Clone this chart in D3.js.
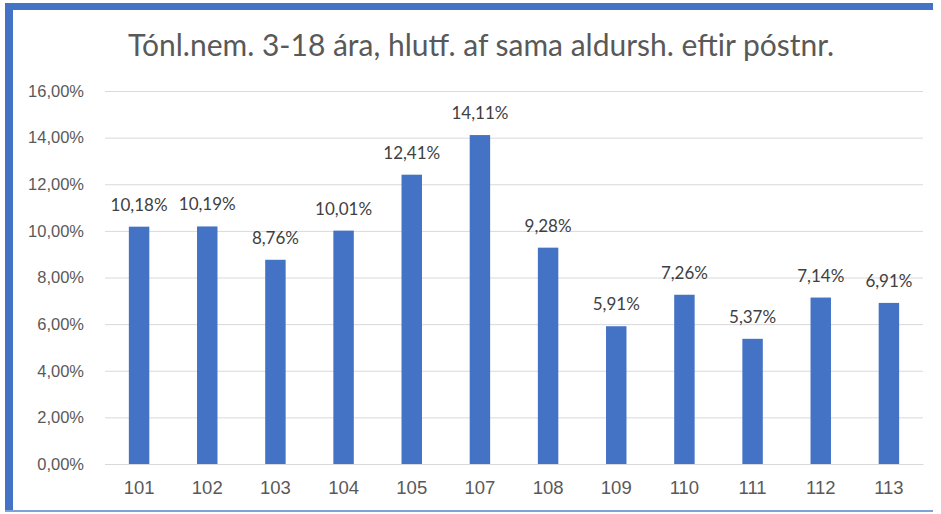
<!DOCTYPE html>
<html>
<head>
<meta charset="utf-8">
<script src="https://cdn.jsdelivr.net/npm/d3@7"></script>
<style>
  body { margin: 0; background: #fff; }
  svg { display: block; font-family: Lato, "Open Sans", sans-serif; }
</style>
</head>
<body>
<svg id="chart" width="941" height="514"></svg>
<script>
// Chart data
const titleText = 'Tónl.nem. 3-18 ára, hlutf. af sama aldursh. eftir póstnr.';
const postcodes = ['101', '102', '103', '104', '105', '107', '108', '109', '110', '111', '112', '113'];
const shares = [10.18, 10.19, 8.76, 10.01, 12.41, 14.11, 9.28, 5.91, 7.26, 5.37, 7.14, 6.91];
const yTicks = [0, 2, 4, 6, 8, 10, 12, 14, 16];

const svg = d3.select('#chart');
const margin = { left: 105, right: 18, top: 91, bottom: 50 };
const width = 941, height = 514;

// Frame (blue border like the screenshot)
svg.append('rect').attr('x', 0).attr('y', 0).attr('width', width).attr('height', height).attr('fill', '#fff');
svg.append('rect').attr('x', 5).attr('y', 3).attr('width', 928).attr('height', 7).attr('fill', '#4472C4');
svg.append('rect').attr('x', 5).attr('y', 3).attr('width', 8).attr('height', 509).attr('fill', '#4472C4');
svg.append('rect').attr('x', 5).attr('y', 510).attr('width', 928).attr('height', 2).attr('fill', '#7fa0d8');

const x = d3.scaleBand()
    .domain(postcodes)
    .range([margin.left, width - margin.right])
    .paddingInner(0.7)
    .paddingOuter(0.35);

const y = d3.scaleLinear()
    .domain([0, 16])
    .range([height - margin.bottom, margin.top]);

const fmt = v => v.toFixed(2).replace('.', ',') + '%';

// Title
svg.append('text')
    .attr('x', 481)
    .attr('y', 56)
    .attr('text-anchor', 'middle')
    .style('font-size', '30px')
    .style('fill', '#595959')
    .text(titleText);

// Gridlines + y axis labels
const yAxis = d3.axisLeft(y)
    .tickValues(yTicks)
    .tickSize(-(width - margin.left - margin.right))
    .tickPadding(21)
    .tickFormat(fmt);

const gy = svg.append('g')
    .attr('transform', `translate(${margin.left},0)`)
    .call(yAxis);
gy.select('.domain').remove();
gy.selectAll('line').attr('stroke', '#d9d9d9').attr('stroke-width', 1);
gy.selectAll('text').style('font-size', '16.5px').style('fill', '#595959');

// Bars
svg.append('g')
    .selectAll('rect')
    .data(shares)
    .enter()
    .append('rect')
    .attr('x', (d, i) => x(postcodes[i]))
    .attr('y', d => y(d))
    .attr('width', x.bandwidth())
    .attr('height', d => y(0) - y(d))
    .attr('fill', '#4472C4');

// Value labels
svg.append('g')
    .selectAll('text')
    .data(shares)
    .enter()
    .append('text')
    .attr('x', (d, i) => x(postcodes[i]) + x.bandwidth() / 2)
    .attr('y', d => y(d) - 16)
    .attr('text-anchor', 'middle')
    .style('font-size', '17px')
    .style('fill', '#404040')
    .text(fmt);

// X axis
const gx = svg.append('g')
    .attr('transform', `translate(0,${y(0)})`)
    .call(d3.axisBottom(x).tickSize(0).tickPadding(17));
gx.select('.domain').attr('stroke', '#d9d9d9');
gx.selectAll('text').style('font-size', '18.5px').style('fill', '#595959');
</script>
</body>
</html>
